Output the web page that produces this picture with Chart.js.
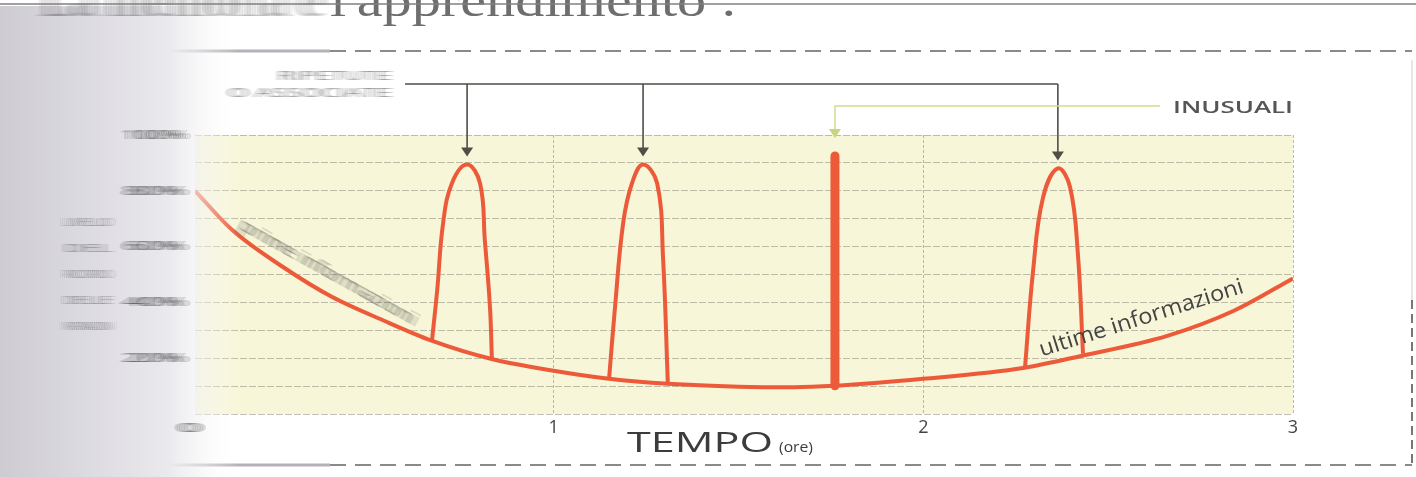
<!DOCTYPE html>
<html>
<head>
<meta charset="utf-8">
<script src="https://cdn.jsdelivr.net/npm/chart.js"></script>
<style>
  html, body { margin: 0; padding: 0; background: #fff; overflow: hidden; }
</style>
</head>
<body>
<canvas id="myChart" width="1416" height="477"></canvas>
<script>
// curva di base: tempo (ore) e ricordo (%)
const baseX = [0.03, 0.13, 0.27, 0.40, 0.54, 0.67, 0.83, 1.00, 1.15, 1.31, 1.50, 1.65, 1.76, 2.00, 2.27, 2.43, 2.66, 2.84, 3.00];
const baseY = [80, 66, 52.5, 42, 33.5, 26.3, 19.8, 15.5, 12.6, 10.8, 9.8, 9.6, 10.1, 12.6, 16.5, 20.9, 28, 37, 48.6];

// picchi: informazioni ripetute o associate
const rip1X = [0.671, 0.685, 0.701, 0.725, 0.766, 0.801, 0.814, 0.828, 0.833];
const rip1Y = [26.3, 44.2, 68.3, 82.7, 89.4, 82.7, 62.2, 38.1, 19.8];
const rip2X = [1.150, 1.166, 1.188, 1.212, 1.242, 1.280, 1.296, 1.309];
const rip2Y = [12.6, 38.1, 68.3, 82.7, 89.4, 82.7, 56.1, 10.8];
const rip3X = [2.275, 2.297, 2.324, 2.364, 2.397, 2.418, 2.432];
const rip3Y = [16.5, 51.4, 77.7, 88.0, 81.3, 57.6, 21.6];

// informazione inusuale
const inusX = [1.761, 1.761];
const inusY = [10.1, 92.5];

const yTickValues = [20, 40, 60, 80, 100];
const yTickLabels = ['20%', '40%', '60%', '80%', '100%'];
const xTickValues = [1, 2, 3];
const xTickLabels = ['1', '2', '3'];
const xZeroLabel = '0';

const lineColor = '#ec5a3a';
const arrowColor = '#4f4f48';
const textColor = '#444444';

const toPts = (xs, ys) => xs.map((x, i) => ({ x: x, y: ys[i] }));

// testo allargato in orizzontale fino a una larghezza data
function fitText(ctx, text, x, y, w, align) {
    const m = ctx.measureText(text).width;
    ctx.save();
    ctx.translate(x, y);
    ctx.scale(w / m, 1);
    ctx.textAlign = align || 'left';
    ctx.fillText(text, 0, 0);
    ctx.restore();
}

// effetto mosso dello scanner
function smear(ctx, spread, n, alpha, fn) {
    for (let i = 0; i < n; i++) {
        ctx.save();
        ctx.globalAlpha = alpha / n;
        ctx.translate(-spread / 2 + spread * i / (n - 1), 0);
        fn();
        ctx.restore();
    }
}

function arrowDown(ctx, x, tipY, color) {
    ctx.fillStyle = color;
    ctx.beginPath();
    ctx.moveTo(x - 6, tipY - 9);
    ctx.lineTo(x + 6, tipY - 9);
    ctx.lineTo(x, tipY);
    ctx.closePath();
    ctx.fill();
}

const decor = {
    id: 'decor',
    beforeDraw(chart) {
        const ctx = chart.ctx;
        const ca = chart.chartArea;
        ctx.save();
        ctx.fillStyle = '#ffffff';
        ctx.fillRect(0, 0, chart.width, chart.height);
        ctx.fillStyle = '#f7f6d8';
        ctx.fillRect(ca.left, ca.top, ca.right - ca.left, ca.bottom - ca.top);
        ctx.restore();
    },
    afterDraw(chart) {
        const ctx = chart.ctx;
        const ca = chart.chartArea;
        const xs = chart.scales.x;
        const ys = chart.scales.y;
        ctx.save();

        // cornice tratteggiata
        ctx.lineWidth = 2;
        ctx.strokeStyle = '#8a8a8a';
        ctx.setLineDash([16, 9]);
        ctx.beginPath();
        ctx.moveTo(330, 51); ctx.lineTo(1412, 51);
        ctx.moveTo(330, 465); ctx.lineTo(1412, 465);
        ctx.stroke();
        ctx.setLineDash([9, 5]);
        ctx.strokeStyle = '#777';
        ctx.beginPath();
        ctx.moveTo(1412, 300); ctx.lineTo(1412, 465);
        ctx.stroke();
        ctx.setLineDash([]);
        ctx.strokeStyle = '#e6e6e6';
        ctx.beginPath();
        ctx.moveTo(1412, 60); ctx.lineTo(1412, 300);
        ctx.stroke();
        ctx.strokeStyle = '#b4b2b8';
        ctx.lineWidth = 3;
        ctx.beginPath();
        ctx.moveTo(30, 51); ctx.lineTo(330, 51);
        ctx.moveTo(30, 465); ctx.lineTo(330, 465);
        ctx.stroke();

        // fascia sfocata a sinistra
        const g = ctx.createLinearGradient(0, 0, 240, 0);
        g.addColorStop(0, 'rgba(206,203,211,1)');
        g.addColorStop(0.35, 'rgba(220,218,225,1)');
        g.addColorStop(0.7, 'rgba(234,233,237,1)');
        g.addColorStop(0.8, 'rgba(240,240,242,0.7)');
        g.addColorStop(1, 'rgba(255,255,255,0)');
        ctx.fillStyle = g;
        ctx.fillRect(0, 6, 240, chart.height - 6);

        // titolo tagliato in alto
        ctx.fillStyle = '#6e6e6e';
        ctx.font = '46px "Liberation Serif"';
        fitText(ctx, "l'apprendimento :", 330, 16, 407, 'left');
        smear(ctx, 18, 8, 0.8, () => fitText(ctx, 'La memoria e', 322, 16, 280, 'right'));
        ctx.strokeStyle = '#808080';
        ctx.lineWidth = 1.5;
        ctx.beginPath();
        ctx.moveTo(0, 4); ctx.lineTo(chart.width, 4);
        ctx.stroke();

        // etichette asse y (sfocate)
        ctx.fillStyle = '#3a3a3a';
        ctx.font = '13px "Open Sans"';
        ctx.textBaseline = 'middle';
        yTickValues.forEach((v, i) => {
            const py = ys.getPixelForValue(v);
            smear(ctx, 16, 8, 1.3, () => fitText(ctx, yTickLabels[i], 184, py, 58, 'right'));
        });
        smear(ctx, 12, 6, 1.0, () => fitText(ctx, xZeroLabel, ca.left - 5, ca.bottom + 14, 24, 'center'));

        ctx.font = '10px "Open Sans"';
        ctx.fillStyle = '#555';
        ['LIVELLO', 'DEL', 'RICORDO', 'DELLE', 'INFORMAZIONI'].forEach((t, i) => {
            smear(ctx, 12, 7, 0.8, () => fitText(ctx, t, 88, 223 + i * 26, 46, 'center'));
        });

        // RIPETUTE O ASSOCIATE
        ctx.font = '12px "Open Sans"';
        ctx.textBaseline = 'alphabetic';
        ctx.fillStyle = '#555';
        smear(ctx, 10, 7, 0.8, () => fitText(ctx, 'RIPETUTE', 391, 80, 113, 'right'));
        smear(ctx, 10, 7, 0.8, () => fitText(ctx, 'O ASSOCIATE', 391, 97, 163, 'right'));

        const peaks = [[rip1X, rip1Y], [rip2X, rip2Y], [rip3X, rip3Y]].map(([px, py]) => {
            const k = py.indexOf(Math.max(...py));
            return { x: xs.getPixelForValue(px[k]), y: ys.getPixelForValue(py[k]) };
        });
        ctx.strokeStyle = arrowColor;
        ctx.lineWidth = 1.6;
        ctx.beginPath();
        ctx.moveTo(405, 84);
        ctx.lineTo(peaks[2].x, 84);
        peaks.forEach(p => {
            ctx.moveTo(p.x, 84);
            ctx.lineTo(p.x, p.y - 14);
        });
        ctx.stroke();
        peaks.forEach(p => arrowDown(ctx, p.x, p.y - 8, arrowColor));

        // INUSUALI
        const bx = xs.getPixelForValue(inusX[0]);
        ctx.strokeStyle = '#d3db92';
        ctx.lineWidth = 1.5;
        ctx.beginPath();
        ctx.moveTo(1160, 106);
        ctx.lineTo(bx, 106);
        ctx.lineTo(bx, ca.top - 2);
        ctx.stroke();
        arrowDown(ctx, bx, ca.top + 3, '#cbd57e');
        ctx.fillStyle = '#555';
        ctx.font = '600 16px "Open Sans"';
        fitText(ctx, 'INUSUALI', 1173, 113, 120, 'left');

        // testi lungo la curva
        ctx.fillStyle = textColor;
        ctx.font = '22px "Open Sans"';
        ctx.save();
        ctx.translate(xs.getPixelForValue(2.59), ys.getPixelForValue(34.2));
        ctx.rotate(-17.5 * Math.PI / 180);
        ctx.textBaseline = 'middle';
        fitText(ctx, 'ultime informazioni', 0, 0, 213, 'center');
        ctx.restore();

        ctx.fillStyle = '#4a4a4a';
        ctx.font = '18px "Open Sans"';
        ctx.save();
        ctx.translate(xs.getPixelForValue(0.39), ys.getPixelForValue(50.7));
        ctx.rotate(29 * Math.PI / 180);
        ctx.textBaseline = 'middle';
        smear(ctx, 10, 7, 0.9, () => fitText(ctx, 'prime informazioni', 0, 0, 198, 'center'));
        ctx.restore();

        // titolo asse x
        ctx.fillStyle = '#3c3c3c';
        ctx.font = '28px "Open Sans"';
        fitText(ctx, 'TEMPO', 627, 452, 146, 'left');
        ctx.font = '15px "Open Sans"';
        fitText(ctx, '(ore)', 779, 452, 34, 'left');

        ctx.restore();
    }
};

const lineDs = (pts, w, extra) => Object.assign({
    data: pts,
    borderColor: lineColor,
    borderWidth: w,
    pointRadius: 0,
    fill: false,
    cubicInterpolationMode: 'monotone'
}, extra || {});

const spike = { cubicInterpolationMode: 'default', tension: 0.4 };

const myChart = new Chart(document.getElementById('myChart'), {
    type: 'line',
    data: {
        datasets: [
            lineDs(toPts(rip1X, rip1Y), 4, spike),
            lineDs(toPts(rip2X, rip2Y), 4, spike),
            lineDs(toPts(rip3X, rip3Y), 4, spike),
            lineDs(toPts(inusX, inusY), 9, { cubicInterpolationMode: 'default', tension: 0, borderCapStyle: 'round' }),
            lineDs(toPts(baseX, baseY), 4)
        ]
    },
    options: {
        responsive: false,
        animation: false,
        devicePixelRatio: 1,
        layout: { padding: { left: 195, right: 123, top: 135, bottom: 23 } },
        scales: {
            x: {
                type: 'linear',
                min: 0.03,
                max: 3,
                afterBuildTicks: s => { s.ticks = xTickValues.map(v => ({ value: v })); },
                afterFit: s => { s.height = 40; },
                ticks: {
                    callback: (v, i) => xTickLabels[i],
                    color: '#444',
                    font: { family: 'Open Sans', size: 18 },
                    padding: 3,
                    maxRotation: 0
                },
                grid: { color: 'rgba(140,140,128,0.6)', lineWidth: 1, drawTicks: false },
                border: { display: false, dash: [3, 2] }
            },
            y: {
                min: 0,
                max: 100,
                ticks: { stepSize: 10, display: false },
                grid: { color: 'rgba(140,140,128,0.55)', lineWidth: 1, drawTicks: false },
                border: { display: false, dash: [7, 2] }
            }
        },
        plugins: {
            legend: { display: false },
            tooltip: { enabled: false }
        }
    },
    plugins: [decor]
});
</script>
</body>
</html>
